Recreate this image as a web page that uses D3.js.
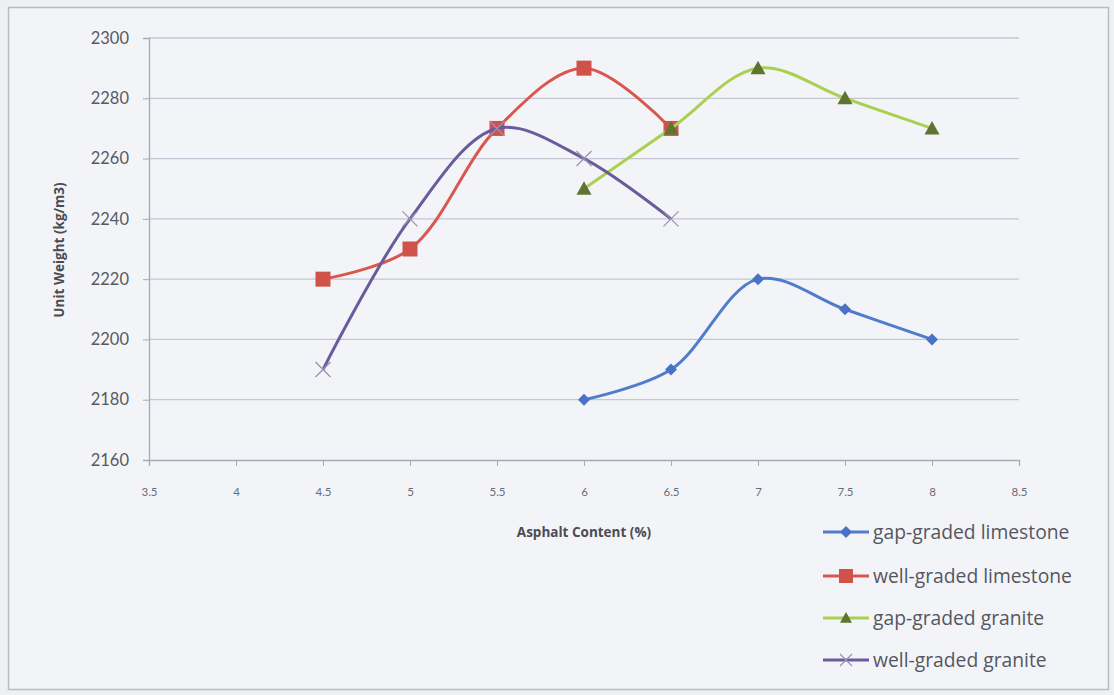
<!DOCTYPE html>
<html><head><meta charset="utf-8">
<script src="https://cdn.jsdelivr.net/npm/d3@7"></script>
<style>
html,body{margin:0;padding:0;background:#eef0f4;}
svg{display:block;font-family:Lato,"Open Sans",sans-serif;}
</style></head><body>
<svg id="chart" width="1114" height="695"></svg>
<script>
const xTicks = [3.5,4,4.5,5,5.5,6,6.5,7,7.5,8,8.5];
const yTicks = [2160,2180,2200,2220,2240,2260,2280,2300];
const seriesNames = ["gap-graded limestone","well-graded limestone","gap-graded granite","well-graded granite"];
const gapLimestoneX = [6,6.5,7,7.5,8];
const gapLimestoneY = [2180,2190,2220,2210,2200];
const wellLimestoneX = [4.5,5,5.5,6,6.5];
const wellLimestoneY = [2220,2230,2270,2290,2270];
const gapGraniteX = [6,6.5,7,7.5,8];
const gapGraniteY = [2250,2270,2290,2280,2270];
const wellGraniteX = [4.5,5,5.5,6,6.5];
const wellGraniteY = [2190,2240,2270,2260,2240];

const series = [
  {name:seriesNames[0], xs:gapLimestoneX, ys:gapLimestoneY, color:"#4f7dcc", mfill:"#4a72c4", marker:"diamond"},
  {name:seriesNames[1], xs:wellLimestoneX, ys:wellLimestoneY, color:"#d9574e", mfill:"#d0524a", marker:"square"},
  {name:seriesNames[2], xs:gapGraniteX, ys:gapGraniteY, color:"#a9d04e", mfill:"#5e7430", marker:"triangle"},
  {name:seriesNames[3], xs:wellGraniteX, ys:wellGraniteY, color:"#6a5c9c", mfill:"#9c90b8", marker:"x"}
];

const svg = d3.select("#chart");
svg.append("rect").attr("x",8.5).attr("y",7.5).attr("width",1100).attr("height",682)
  .attr("fill","#f3f4f8").attr("stroke","#b8bac4").attr("stroke-width",1.5);

const x = d3.scaleLinear().domain([3.5,8.5]).range([149,1019]);
const y = d3.scaleLinear().domain([2160,2300]).range([460,38]);

svg.append("g").selectAll("line").data(yTicks.filter(d=>d>2160)).join("line")
  .attr("x1",x(3.5)).attr("x2",x(8.5)).attr("y1",d=>y(d)).attr("y2",d=>y(d))
  .attr("stroke","#c4c6d4").attr("stroke-width",1.3);

const yAxis = svg.append("g").attr("transform",`translate(${x(3.5)},0)`)
  .call(d3.axisLeft(y).tickValues(yTicks).tickSize(6).tickPadding(14).tickFormat(d3.format("d")));
yAxis.select(".domain").attr("stroke","#a8aab6").attr("stroke-width",1.3);
yAxis.selectAll(".tick line").attr("stroke","#a8aab6");
yAxis.selectAll("text").attr("fill","#585a62").attr("font-size",16.5).attr("font-family","Lato, sans-serif");

const xAxis = svg.append("g").attr("transform",`translate(0,${y(2160)})`)
  .call(d3.axisBottom(x).tickValues(xTicks).tickSize(6).tickPadding(22).tickFormat(d=>String(d)));
xAxis.select(".domain").attr("stroke","#a8aab6").attr("stroke-width",1.3);
xAxis.selectAll(".tick line").attr("stroke","#a8aab6");
xAxis.selectAll("text").attr("fill","#6a6c74").attr("font-size",11.5).attr("font-family","Lato, sans-serif");

svg.append("text").attr("transform",`translate(64,250) rotate(-90)`).attr("text-anchor","middle")
  .attr("font-size",13.5).attr("font-weight","bold").attr("font-family","'Open Sans', sans-serif").attr("fill","#4a4c54").text("Unit Weight (kg/m3)");
svg.append("text").attr("x",584).attr("y",537).attr("text-anchor","middle")
  .attr("font-size",13.5).attr("font-weight","bold").attr("font-family","'Open Sans', sans-serif").attr("fill","#4a4c54").text("Asphalt Content (%)");

const line = d3.line().x(d=>x(d[0])).y(d=>y(d[1])).curve(d3.curveCatmullRom.alpha(0.5));

function drawMarker(g, type, fill, size){
  if(type==="diamond"){
    const s=size/2;
    g.append("path").attr("d",`M0,${-s}L${s},0L0,${s}L${-s},0Z`).attr("fill",fill);
  } else if(type==="square"){
    g.append("rect").attr("x",-size/2).attr("y",-size/2).attr("width",size).attr("height",size).attr("fill",fill);
  } else if(type==="triangle"){
    const s=size/2;
    g.append("path").attr("d",`M0,${-s}L${s},${s*0.8}L${-s},${s*0.8}Z`).attr("fill",fill);
  } else {
    const s=size/2;
    g.append("path").attr("d",`M${-s},${-s}L${s},${s}M${-s},${s}L${s},${-s}`).attr("stroke",fill).attr("stroke-width",1.3).attr("fill","none");
  }
}
const mSize = {diamond:12, square:15, triangle:15, x:15};

series.forEach(s=>{
  const pts = s.xs.map((v,i)=>[v,s.ys[i]]);
  svg.append("path").datum(pts).attr("d",line).attr("fill","none").attr("stroke",s.color).attr("stroke-width",3);
  pts.forEach(p=>{
    const g = svg.append("g").attr("transform",`translate(${x(p[0])},${y(p[1])})`);
    drawMarker(g, s.marker, s.mfill, mSize[s.marker]);
  });
});

const legY = [532,576,618,660];
series.forEach((s,i)=>{
  const g = svg.append("g").attr("transform",`translate(0,${legY[i]})`);
  g.append("line").attr("x1",823).attr("x2",869).attr("y1",0).attr("y2",0).attr("stroke",s.color).attr("stroke-width",3);
  const m = g.append("g").attr("transform","translate(846,0)");
  drawMarker(m, s.marker, s.mfill, s.marker==="square"?14:12);
  g.append("text").attr("x",873).attr("y",6.5).attr("font-size",19.3).attr("font-family","'Open Sans', sans-serif").attr("fill","#55575f").text(s.name);
});
</script>
</body></html>
